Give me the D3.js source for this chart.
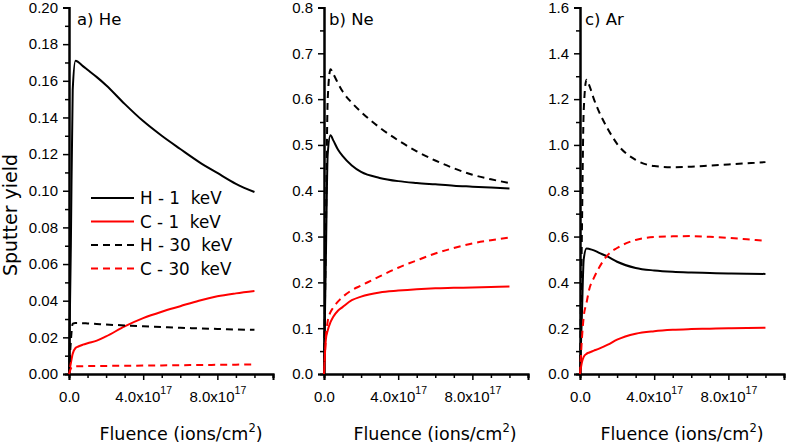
<!DOCTYPE html>
<html>
<head>
<meta charset="utf-8">
<script src="https://cdn.jsdelivr.net/npm/d3@7"></script>
<style>
  body { margin: 0; background: #fff; }
  svg { display: block; font-family: "DejaVu Sans", "Liberation Sans", Arial, sans-serif; }
</style>
</head>
<body>
<div id="chart"></div>
<script>
// shared fluence grid (ions/cm^2)
const fluence = [0, 1e16, 2e16, 3.5e16, 5e16, 7.5e16, 1e17, 1.5e17, 2e17, 3e17, 4e17, 5e17, 6e17, 7e17, 8e17, 9e17, 1e18];

const seriesNames = ['H - 1  keV', 'C - 1  keV', 'H - 30  keV', 'C - 30  keV'];

// a) He
const heH1 = [0, 0.07, 0.155, 0.171, 0.1702, 0.168, 0.166, 0.162, 0.1576, 0.1474, 0.138, 0.130, 0.1228, 0.1158, 0.1097, 0.1038, 0.0993];
const heC1 = [0, 0.006, 0.011, 0.0142, 0.0150, 0.0160, 0.0168, 0.0182, 0.0205, 0.026, 0.0305, 0.034, 0.037, 0.040, 0.0424, 0.044, 0.0453];
const heH30 = [0, 0.018, 0.0275, 0.0278, 0.0278, 0.0277, 0.0276, 0.0273, 0.027, 0.0265, 0.026, 0.0256, 0.0252, 0.0249, 0.0246, 0.0243, 0.0241];
const heC30 = [0, 0.003, 0.004, 0.0042, 0.0042, 0.0042, 0.0043, 0.0043, 0.0044, 0.0045, 0.0046, 0.0047, 0.0048, 0.0049, 0.005, 0.0051, 0.0052];

// b) Ne
const neH1 = [0, 0.25, 0.48, 0.521, 0.51, 0.49, 0.476, 0.455, 0.441, 0.428, 0.421, 0.417, 0.414, 0.411, 0.409, 0.407, 0.405];
const neC1 = [0, 0.075, 0.095, 0.113, 0.125, 0.138, 0.146, 0.161, 0.169, 0.178, 0.182, 0.185, 0.187, 0.188, 0.189, 0.19, 0.191];
const neH30 = [0, 0.3, 0.6, 0.665, 0.655, 0.635, 0.617, 0.592, 0.572, 0.538, 0.51, 0.486, 0.466, 0.449, 0.435, 0.425, 0.417];
const neC30 = [0, 0.08, 0.115, 0.135, 0.145, 0.158, 0.168, 0.183, 0.193, 0.213, 0.232, 0.248, 0.263, 0.275, 0.285, 0.292, 0.298];

// c) Ar
const arH1 = [0, 0.25, 0.5, 0.548, 0.546, 0.54, 0.53, 0.512, 0.49, 0.463, 0.452, 0.446, 0.443, 0.441, 0.439, 0.438, 0.437];
const arC1 = [0, 0.05, 0.075, 0.088, 0.094, 0.102, 0.11, 0.128, 0.15, 0.176, 0.187, 0.193, 0.196, 0.198, 0.2, 0.201, 0.202];
const arH30 = [0, 0.6, 1.15, 1.285, 1.26, 1.2, 1.15, 1.07, 1.005, 0.935, 0.908, 0.903, 0.905, 0.91, 0.915, 0.92, 0.925];
const arC30 = [0, 0.15, 0.25, 0.31, 0.37, 0.42, 0.46, 0.52, 0.55, 0.585, 0.598, 0.601, 0.602, 0.599, 0.594, 0.588, 0.582];

const panelLabels = ['a) He', 'b) Ne', 'c) Ar'];
const yMax = [0.2, 0.8, 1.6];
const yMajor = [
	[0, 0.02, 0.04, 0.06, 0.08, 0.1, 0.12, 0.14, 0.16, 0.18, 0.2],
	[0, 0.1, 0.2, 0.3, 0.4, 0.5, 0.6, 0.7, 0.8],
	[0, 0.2, 0.4, 0.6, 0.8, 1.0, 1.2, 1.4, 1.6],
];
const yDecimals = [2, 1, 1];
const xMajor = [0, 4e17, 8e17];
const xMinor = [1e17, 2e17, 3e17, 5e17, 6e17, 7e17, 9e17, 1e18, 1.1e18];
const xMax = 1.1e18;

const panelData = [
	[heH1, heC1, heH30, heC30],
	[neH1, neC1, neH30, neC30],
	[arH1, arC1, arH30, arC30],
];
const seriesColor = ['#000', '#ff0000', '#000', '#ff0000'];
const seriesDash = [null, null, '7,5', '7,5'];

const W = 786, H = 445;
const plotTop = 7.5, plotBottom = 374;
const panelLeft = [69, 324, 580];
const panelWidth = 204;
const labelX = [77, 329, 585];
const titleX = [181, 435, 682];

const svg = d3.select('#chart').append('svg').attr('width', W).attr('height', H);

// y axis title
svg.append('text')
	.attr('transform', 'translate(16.5,' + 215 + ')rotate(-90)')
	.attr('text-anchor', 'middle')
	.attr('font-size', 19)
	.text('Sputter yield');

panelData.forEach((series, p) => {
	const x = d3.scaleLinear().domain([0, xMax]).range([panelLeft[p], panelLeft[p] + panelWidth]);
	const y = d3.scaleLinear().domain([0, yMax[p]]).range([plotBottom, plotTop]);
	const g = svg.append('g');

	// minor y ticks (halfway between majors)
	const yMin = d3.pairs(yMajor[p]).map(([a, b]) => (a + b) / 2);
	const yMinorAxis = d3.axisLeft(y).tickValues(yMin).tickSize(4).tickFormat('');
	g.append('g').attr('transform', 'translate(' + panelLeft[p] + ',0)').call(yMinorAxis);

	const yAxis = d3.axisLeft(y).tickValues(yMajor[p]).tickSize(6).tickPadding(5)
		.tickFormat(d3.format('.' + yDecimals[p] + 'f'));
	g.append('g').attr('transform', 'translate(' + panelLeft[p] + ',0)').call(yAxis);

	const xMinorAxis = d3.axisBottom(x).tickValues(xMinor).tickSize(4).tickFormat('');
	g.append('g').attr('transform', 'translate(0,' + plotBottom + ')').call(xMinorAxis);

	const xAxis = d3.axisBottom(x).tickValues(xMajor).tickSize(6).tickFormat('');
	const xg = g.append('g').attr('transform', 'translate(0,' + plotBottom + ')').call(xAxis);

	// x tick labels with superscript exponent
	xg.selectAll('.tick').each(function (d) {
		const t = d3.select(this).append('text')
			.attr('fill', '#000')
			.attr('y', 28)
			.attr('text-anchor', 'middle');
		if (d === 0) {
			t.text('0.0');
		} else {
			const exp = Math.floor(Math.log10(d));
			t.append('tspan').text((d / Math.pow(10, exp)).toFixed(1) + 'x10');
			t.append('tspan').attr('dy', -8).attr('font-size', 10.5).text(exp);
		}
	});

	g.selectAll('.domain').attr('stroke-width', 2);
	g.selectAll('.tick line').attr('stroke-width', 1.5);
	g.selectAll('.tick text').attr('font-size', 15).attr('fill', '#000');

	// curves
	const line = d3.line()
		.x((d, i) => x(fluence[i]))
		.y((d) => y(d))
		.curve(d3.curveMonotoneX);

	series.forEach((vals, s) => {
		g.append('path')
			.datum(vals)
			.attr('fill', 'none')
			.attr('stroke', seriesColor[s])
			.attr('stroke-width', 2)
			.attr('stroke-dasharray', seriesDash[s])
			.attr('d', line);
	});

	// panel label
	g.append('text')
		.attr('x', labelX[p])
		.attr('y', 25)
		.attr('font-size', 16.5)
		.text(panelLabels[p]);

	// x axis title
	const title = g.append('text')
		.attr('x', titleX[p])
		.attr('y', 440)
		.attr('font-size', 17.5)
		.attr('text-anchor', 'middle');
	title.append('tspan').text('Fluence (ions/cm');
	title.append('tspan').attr('dy', -8).attr('font-size', 11.5).text('2');
	title.append('tspan').attr('dy', 8).text(')');
});

// legend (panel a)
const legend = svg.append('g').attr('transform', 'translate(91,198)');
seriesNames.forEach((name, i) => {
	const row = legend.append('g').attr('transform', 'translate(0,' + i * 23.5 + ')');
	row.append('line')
		.attr('x1', 0).attr('x2', 43)
		.attr('stroke', seriesColor[i])
		.attr('stroke-width', 2)
		.attr('stroke-dasharray', seriesDash[i]);
	row.append('text')
		.attr('x', 49)
		.attr('dy', '0.36em')
		.attr('font-size', 16.8)
		.attr('xml:space', 'preserve')
		.text(name);
});
</script>
</body>
</html>
